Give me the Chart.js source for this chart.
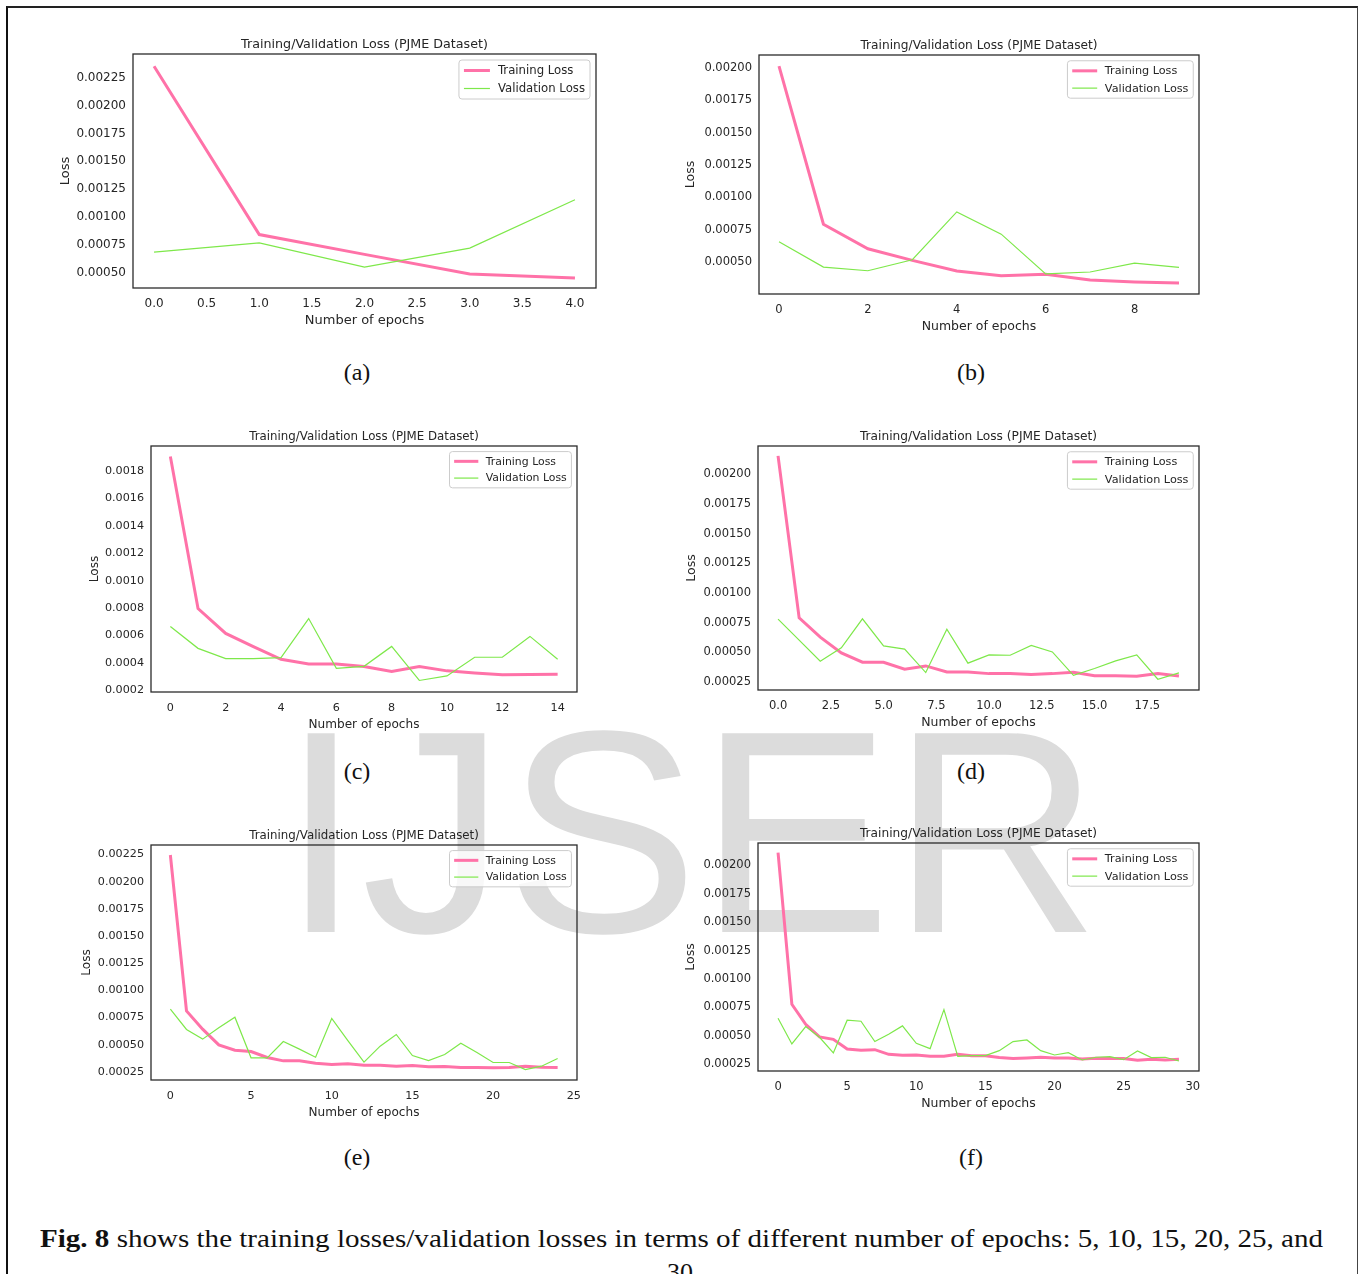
<!DOCTYPE html>
<html>
<head>
<meta charset="utf-8">
<title>Training/Validation Loss (PJME Dataset)</title>
<script src="https://cdn.jsdelivr.net/npm/chart.js@4.4.1/dist/chart.umd.min.js"></script>
<style>
  html, body { margin: 0; padding: 0; background: #fff; }
  body { width: 1359px; height: 1274px; position: relative; overflow: hidden; }
  .page { position: absolute; left: 6px; top: 6px; width: 1349px; height: 1400px;
          border-top: 2px solid #222; border-left: 2px solid #111; border-right: 1.5px solid #444; }
  .mark { position: absolute; left: 281px; top: 687px; font-family: "Liberation Sans", Arial, sans-serif;
          font-size: 289px; line-height: 289px; color: #dcdcdc; white-space: nowrap; }
  canvas { position: absolute; }
  .sub { position: absolute; font-family: "Liberation Serif", serif; font-size: 24px; line-height: 24px;
         transform: translate(-50%, -50%); color: #111; }
  .cap { position: absolute; font-family: "Liberation Serif", serif; font-size: 26px; line-height: 30px;
         white-space: nowrap; color: #111; transform-origin: 0 0; }
</style>
</head>
<body>
<div class="page"></div>
<div class="mark">IJSER</div>

<div class="sub" style="left:357px;top:372px">(a)</div>
<div class="sub" style="left:971px;top:372px">(b)</div>
<div class="sub" style="left:357px;top:771px">(c)</div>
<div class="sub" style="left:971px;top:771px">(d)</div>
<div class="sub" style="left:357px;top:1157px">(e)</div>
<div class="sub" style="left:971px;top:1157px">(f)</div>

<div class="cap" id="cap1" style="left:40px;top:1224px"><b>Fig. 8</b> shows the training losses/validation losses in terms of different number of epochs: 5, 10, 15, 20, 25, and</div>
<div class="cap" id="cap2" style="left:667px;top:1258px">30.</div>

<script>
// values
const epochsA = [0, 1, 2, 3, 4];
const trainA = [0.002354, 0.000842, 0.000664, 0.000488, 0.000452];
const valA = [0.000685, 0.000768, 0.000550, 0.000720, 0.001155];
const xTicksA = [0, 0.5, 1, 1.5, 2, 2.5, 3, 3.5, 4];
const yTicksA = [0.0005, 0.00075, 0.001, 0.00125, 0.0015, 0.00175, 0.002, 0.00225];
const yLimA = [0.000362, 0.002464];

const epochsB = [0, 1, 2, 3, 4, 5, 6, 7, 8, 9];
const trainB = [0.002016, 0.000793, 0.000603, 0.000513, 0.000431, 0.000395, 0.000405, 0.000361, 0.000346, 0.000338];
const valB = [0.000657, 0.000461, 0.000433, 0.000518, 0.000888, 0.000716, 0.000408, 0.000423, 0.000492, 0.000459];
const xTicksB = [0, 2, 4, 6, 8];
const yTicksB = [0.0005, 0.00075, 0.001, 0.00125, 0.0015, 0.00175, 0.002];
const yLimB = [0.000253, 0.002102];

const epochsC = [0, 1, 2, 3, 4, 5, 6, 7, 8, 9, 10, 11, 12, 13, 14];
const trainC = [0.001904, 0.000797, 0.000616, 0.000519, 0.000427, 0.000393, 0.000393, 0.000374, 0.000338, 0.000374,
                0.000343, 0.000328, 0.000314, 0.000316, 0.000318];
const valC = [0.000666, 0.000507, 0.000432, 0.000432, 0.000439, 0.000724, 0.000362, 0.000376, 0.000521, 0.000273,
              0.000306, 0.000442, 0.000442, 0.000594, 0.000427];
const xTicksC = [0, 2, 4, 6, 8, 10, 12, 14];
const yTicksC = [0.0002, 0.0004, 0.0006, 0.0008, 0.001, 0.0012, 0.0014, 0.0016, 0.0018];
const yLimC = [0.000189, 0.001981];

const epochsD = [0, 1, 2, 3, 4, 5, 6, 7, 8, 9, 10, 11, 12, 13, 14, 15, 16, 17, 18, 19];
const trainD = [0.002155, 0.000790, 0.000627, 0.000495, 0.000416, 0.000416, 0.000357, 0.000385, 0.000334, 0.000334,
                0.000320, 0.000320, 0.000312, 0.000320, 0.000332, 0.000303, 0.000303, 0.000298, 0.000320, 0.000300];
const valD = [0.000779, 0.000602, 0.000424, 0.000537, 0.000782, 0.000554, 0.000526, 0.000329, 0.000695, 0.000408,
              0.000478, 0.000475, 0.000557, 0.000503, 0.000306, 0.000363, 0.000427, 0.000478, 0.000273, 0.000326];
const xTicksD = [0, 2.5, 5, 7.5, 10, 12.5, 15, 17.5];
const yTicksD = [0.00025, 0.0005, 0.00075, 0.001, 0.00125, 0.0015, 0.00175, 0.002];
const yLimD = [0.000182, 0.002238];

const epochsE = [0, 1, 2, 3, 4, 5, 6, 7, 8, 9, 10, 11, 12, 13, 14, 15, 16, 17, 18, 19, 20, 21, 22, 23, 24];
const trainE = [0.002245, 0.000811, 0.000643, 0.000498, 0.000449, 0.000437, 0.000382, 0.000351, 0.000351, 0.000330,
                0.000317, 0.000324, 0.000311, 0.000311, 0.000302, 0.000308, 0.000296, 0.000299, 0.000290, 0.000290,
                0.000287, 0.000290, 0.000302, 0.000293, 0.000290];
const valE = [0.000827, 0.000640, 0.000551, 0.000655, 0.000753, 0.000379, 0.000379, 0.000529, 0.000459, 0.000385,
              0.000741, 0.000538, 0.000339, 0.000486, 0.000594, 0.000400, 0.000354, 0.000410, 0.000514, 0.000428,
              0.000336, 0.000336, 0.000271, 0.000302, 0.000373];
const xTicksE = [0, 5, 10, 15, 20, 25];
const yTicksE = [0.00025, 0.0005, 0.00075, 0.001, 0.00125, 0.0015, 0.00175, 0.002, 0.00225];
const yLimE = [0.000175, 0.002337];

const epochsF = [0, 1, 2, 3, 4, 5, 6, 7, 8, 9, 10, 11, 12, 13, 14, 15, 16, 17, 18, 19, 20, 21, 22, 23, 24, 25, 26, 27, 28, 29];
const trainF = [0.002114, 0.000778, 0.000602, 0.000491, 0.000470, 0.000385, 0.000373, 0.000379, 0.000338, 0.000329,
                0.000332, 0.000320, 0.000320, 0.000338, 0.000326, 0.000326, 0.000309, 0.000300, 0.000306, 0.000312,
                0.000306, 0.000306, 0.000297, 0.000303, 0.000300, 0.000300, 0.000285, 0.000294, 0.000288, 0.000294];
const valF = [0.000655, 0.000429, 0.000582, 0.000488, 0.000350, 0.000638, 0.000629, 0.000450, 0.000514, 0.000588,
              0.000435, 0.000388, 0.000731, 0.000320, 0.000326, 0.000326, 0.000370, 0.000450, 0.000464, 0.000370,
              0.000332, 0.000353, 0.000288, 0.000312, 0.000318, 0.000291, 0.000367, 0.000309, 0.000312, 0.000279];
const xTicksF = [0, 5, 10, 15, 20, 25, 30];
const yTicksF = [0.00025, 0.0005, 0.00075, 0.001, 0.00125, 0.0015, 0.00175, 0.002];
const yLimF = [0.000191, 0.002198];

const TRAIN_COLOR = '#ff72a8';
const VAL_COLOR = '#7ee84a';
const TEXT_COLOR = '#262626';

Chart.defaults.font.family = '"DejaVu Sans", sans-serif';
Chart.defaults.color = TEXT_COLOR;

// frame = plot box [left, top, right, bottom] on the page; k = text scale of that panel
const panels = [
  { frame: [133, 54, 596, 288], k: 1.0, epochs: epochsA, train: trainA, val: valA, xTicks: xTicksA, yTicks: yTicksA, yLim: yLimA, xDec: 1, yDec: 5, lossGap: 67 },
  { frame: [759, 55, 1199, 294], k: 0.96, epochs: epochsB, train: trainB, val: valB, xTicks: xTicksB, yTicks: yTicksB, yLim: yLimB, xDec: 0, yDec: 5, lossGap: 68 },
  { frame: [151, 446, 577, 692], k: 0.93, epochs: epochsC, train: trainC, val: valC, xTicks: xTicksC, yTicks: yTicksC, yLim: yLimC, xDec: 0, yDec: 4, lossGap: 56 },
  { frame: [758, 446, 1199, 690], k: 0.96, epochs: epochsD, train: trainD, val: valD, xTicks: xTicksD, yTicks: yTicksD, yLim: yLimD, xDec: 1, yDec: 5, lossGap: 66 },
  { frame: [151, 845, 577, 1080], k: 0.93, epochs: epochsE, train: trainE, val: valE, xTicks: xTicksE, yTicks: yTicksE, yLim: yLimE, xDec: 0, yDec: 5, lossGap: 64 },
  { frame: [758, 843, 1199, 1071], k: 0.96, epochs: epochsF, train: trainF, val: valF, xTicks: xTicksF, yTicks: yTicksF, yLim: yLimF, xDec: 0, yDec: 5, lossGap: 67 }
];

// box around the plot area
const frameBox = {
  id: 'frameBox',
  afterDatasetsDraw(chart) {
    const { ctx, chartArea: a } = chart;
    ctx.save();
    ctx.strokeStyle = '#2b2b2b';
    ctx.lineWidth = 1.3;
    ctx.strokeRect(a.left, a.top, a.right - a.left, a.bottom - a.top);
    ctx.restore();
  }
};

// matplotlib-like legend in the upper right corner
const lossLegend = {
  id: 'lossLegend',
  afterDraw(chart) {
    const { ctx, chartArea: a } = chart;
    const k = chart.options.plugins.lossLegend.k;
    const sets = chart.data.datasets;
    ctx.save();
    ctx.font = (11.7 * k) + 'px "DejaVu Sans"';
    const textW = Math.max(...sets.map(d => ctx.measureText(d.label).width));
    const w = (5 + 26 + 8 + 5) * k + textW;
    const h = 39 * k;
    const x = a.right - 6 * k - w;
    const y = a.top + 6 * k;
    ctx.beginPath();
    ctx.roundRect(x, y, w, h, 3);
    ctx.fillStyle = 'rgba(255,255,255,0.8)';
    ctx.fill();
    ctx.strokeStyle = '#cccccc';
    ctx.lineWidth = 1;
    ctx.stroke();
    sets.forEach((d, i) => {
      const cy = y + (10.5 + i * 18) * k;
      ctx.beginPath();
      ctx.moveTo(x + 5 * k, cy);
      ctx.lineTo(x + 31 * k, cy);
      ctx.strokeStyle = d.borderColor;
      ctx.lineWidth = d.borderWidth;
      ctx.stroke();
      ctx.fillStyle = TEXT_COLOR;
      ctx.textBaseline = 'middle';
      ctx.fillText(d.label, x + 39 * k, cy + 0.5);
    });
    ctx.restore();
  }
};

const PAD_RIGHT = 24;   // room for the last x tick label

function makePanel(p) {
  const [L, T, R, B] = p.frame;
  const k = p.k;
  const w = R - L + 90 + PAD_RIGHT;
  const h = B - T + 75;
  const cv = document.createElement('canvas');
  cv.width = w;
  cv.height = h;
  cv.style.left = (L - 90) + 'px';
  cv.style.top = (T - 30) + 'px';
  cv.style.width = w + 'px';
  cv.style.height = h + 'px';
  document.body.appendChild(cv);

  const n = p.epochs.length - 1;
  const titleSize = 12.7 * k;
  const titleTop = 30 - 9.5 - titleSize * 0.6;
  new Chart(cv, {
    type: 'line',
    data: {
      datasets: [
        {
          label: 'Training Loss',
          data: p.epochs.map((e, i) => ({ x: e, y: p.train[i] })),
          borderColor: TRAIN_COLOR,
          borderWidth: 3,
          pointRadius: 0,
          tension: 0,
          order: 2
        },
        {
          label: 'Validation Loss',
          data: p.epochs.map((e, i) => ({ x: e, y: p.val[i] })),
          borderColor: VAL_COLOR,
          borderWidth: 1.2,
          pointRadius: 0,
          tension: 0,
          order: 1
        }
      ]
    },
    options: {
      responsive: false,
      animation: false,
      events: [],
      layout: { padding: { top: 0, right: PAD_RIGHT, bottom: 0, left: 0 } },
      plugins: {
        legend: { display: false },
        tooltip: { enabled: false },
        lossLegend: { k: k },
        title: {
          display: true,
          fullSize: false,   // centre the title over the plot box, like matplotlib
          text: 'Training/Validation Loss (PJME Dataset)',
          color: TEXT_COLOR,
          font: { size: titleSize, weight: 'normal', lineHeight: 1.2 },
          padding: { top: titleTop, bottom: 30 - titleTop - titleSize * 1.2 }
        }
      },
      scales: {
        x: {
          type: 'linear',
          min: -0.05 * n,
          max: n * 1.05,
          grid: { display: false, drawTicks: false },
          border: { display: false },
          afterBuildTicks: axis => { axis.ticks = p.xTicks.map(v => ({ value: v })); },
          afterFit: axis => { axis.height = 45; },
          ticks: {
            autoSkip: false,
            maxRotation: 0,
            padding: 9,
            font: { size: 12 * k },
            callback: v => Number(v).toFixed(p.xDec)
          },
          title: {
            display: true,
            text: 'Number of epochs',
            font: { size: 13 * k, lineHeight: 1.2 },
            padding: { top: 0, bottom: 5 }
          }
        },
        y: {
          min: p.yLim[0],
          max: p.yLim[1],
          grid: { display: false, drawTicks: false },
          border: { display: false },
          afterBuildTicks: axis => { axis.ticks = p.yTicks.map(v => ({ value: v })); },
          afterFit: axis => { axis.width = 90; },
          ticks: {
            autoSkip: false,
            padding: 7,
            font: { size: 12 * k },
            callback: v => Number(v).toFixed(p.yDec)
          },
          title: {
            display: true,
            text: 'Loss',
            font: { size: 13 * k, lineHeight: 1.2 },
            padding: { top: 90 - p.lossGap - 7.8 * k, bottom: 0 }
          }
        }
      }
    },
    plugins: [frameBox, lossLegend]
  });
}

panels.forEach(makePanel);

// stretch the first caption line to the full text width, as in the paper
const cap1 = document.getElementById('cap1');
const natural = cap1.getBoundingClientRect().width;
cap1.style.transform = 'scaleX(' + (1283 / natural) + ')';
</script>
</body>
</html>
